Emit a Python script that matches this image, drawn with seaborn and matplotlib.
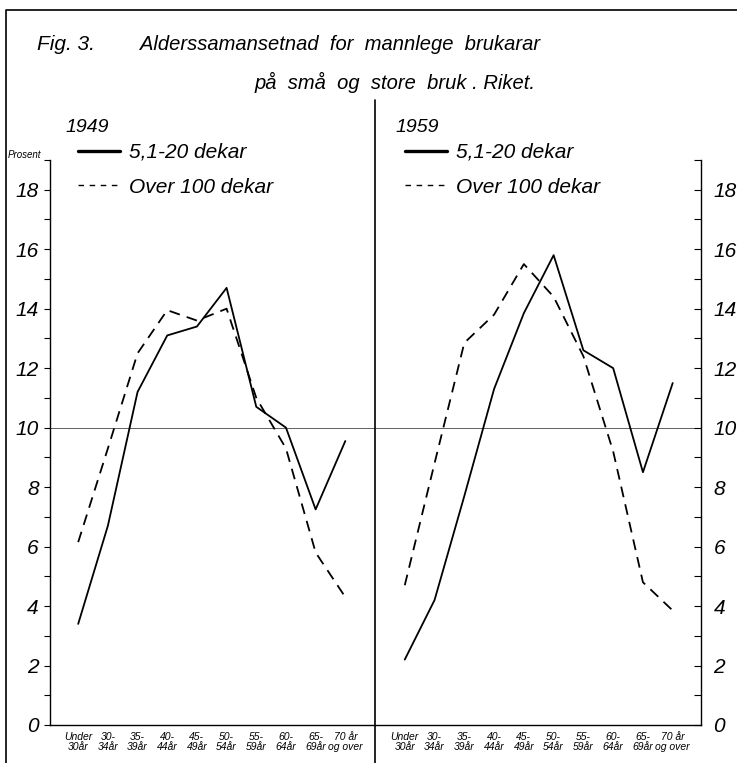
import matplotlib
matplotlib.use("Agg")
import matplotlib.pyplot as plt
from matplotlib.lines import Line2D
import seaborn as sns
import pandas as pd

# ---- data ----
age_labels = ["Under\n30år", "30-\n34år", "35-\n39år", "40-\n44år", "45-\n49år",
              "50-\n54år", "55-\n59år", "60-\n64år", "65-\n69år", "70 år\nog over"]
series_names = ["5,1-20 dekar", "Over 100 dekar"]
small_1949 = [3.4, 6.7, 11.2, 13.1, 13.4, 14.7, 10.7, 10.0, 7.25, 9.55]
large_1949 = [6.15, 9.3, 12.5, 13.95, 13.6, 14.0, 11.0, 9.3, 5.8, 4.3]
small_1959 = [2.2, 4.2, 7.7, 11.3, 13.85, 15.8, 12.6, 12.0, 8.5, 11.5]
large_1959 = [4.7, 8.8, 12.85, 13.8, 15.5, 14.4, 12.4, 9.2, 4.8, 3.85]
years = ["1949", "1959"]
y_major = [0, 2, 4, 6, 8, 10, 12, 14, 16, 18]
y_minor = [1, 3, 5, 7, 9, 11, 13, 15, 17, 19]

def long_df(small, large):
    rows = []
    for i, (a, b) in enumerate(zip(small, large)):
        rows.append({"idx": i, "value": a, "series": series_names[0]})
        rows.append({"idx": i, "value": b, "series": series_names[1]})
    return pd.DataFrame(rows)

df49 = long_df(small_1949, large_1949)
df59 = long_df(small_1959, large_1959)

sns.set_theme(style="white")
FONT = ["Liberation Sans", "DejaVu Sans"]
plt.rcParams["font.family"] = FONT
plt.rcParams["font.style"] = "italic"
plt.rcParams["text.color"] = "black"
plt.rcParams["xtick.color"] = "black"
plt.rcParams["ytick.color"] = "black"

W, H = 737, 763
fig = plt.figure(figsize=(W / 100, H / 100), dpi=100)
fig.patch.set_facecolor("white")

bottom = 1 - 725 / H
height = (725 - 160) / H
axL = fig.add_axes([50 / W, bottom, 325 / W, height])
axR = fig.add_axes([375 / W, bottom, 326 / W, height])

dashes = {series_names[0]: "", series_names[1]: (6, 4)}

for ax, df in ((axL, df49), (axR, df59)):
    sns.lineplot(data=df, x="idx", y="value", style="series", dashes=dashes,
                 color="black", lw=1.3, ax=ax, legend=False, sort=False,
                 errorbar=None)
    ax.axhline(10, color="#606060", lw=0.7, zorder=0)
    ax.set_ylim(0, 19)
    ax.set_xticks(range(len(age_labels)))
    ax.set_xticklabels(age_labels, fontsize=7.5, linespacing=1.0)
    ax.set_yticks(y_major)
    ax.set_yticks(y_minor, minor=True)
    ax.set_xlabel("")
    ax.set_ylabel("")
    ax.set_facecolor("white")
    for s in ax.spines.values():
        s.set_color("black")
        s.set_linewidth(1.0)
    ax.spines["top"].set_visible(False)
    ax.tick_params(axis="x", direction="in", length=4, width=0.8, pad=5,
                   color="black", labelcolor="black")
    ax.grid(False)

axL.set_xlim(-0.95, 10.0)
axR.set_xlim(-1.0, 9.95)

axL.spines["right"].set_visible(False)
axR.spines["left"].set_visible(False)
axL.tick_params(axis="y", which="both", left=True, right=False, direction="out",
                length=4, width=0.8, labelsize=15, pad=4, color="black",
                labelcolor="black")
axR.yaxis.tick_right()
axR.tick_params(axis="y", which="both", right=True, left=False, direction="in",
                length=5, width=0.8, labelsize=15, pad=9, color="black",
                labelcolor="black")

# legends
for ax, xa in ((axL, (78 - 50) / 325), (axR, (405 - 375) / 326)):
    handles = [Line2D([], [], color="black", lw=2.4),
               Line2D([], [], color="black", lw=1.0, ls=(0, (4, 4)))]
    ax.legend(handles, series_names, loc="upper left",
              bbox_to_anchor=(xa, (725 - 143) / 565), frameon=False,
              fontsize=15, handlelength=2.0, handletextpad=0.45,
              labelspacing=0.75, borderpad=0, borderaxespad=0)

# texts
fig.text(37 / W, 1 - 45 / H, "Fig. 3.", fontsize=15, va="center", ha="left")
fig.text(140 / W, 1 - 45 / H, "Alderssamansetnad  for  mannlege  brukarar",
         fontsize=14.5, va="center", ha="left")
fig.text(255 / W, 1 - 82 / H, "på  små  og  store  bruk . Riket.",
         fontsize=14.5, va="center", ha="left")
fig.text(65 / W, 1 - 127 / H, years[0], fontsize=14, va="center", ha="left")
fig.text(395 / W, 1 - 127 / H, years[1], fontsize=14, va="center", ha="left")
fig.text(8 / W, 1 - 155 / H, "Prosent", fontsize=7, va="center", ha="left")

# frame and divider
fig.add_artist(Line2D([6 / W, 6 / W, 1], [0, 1 - 10 / H, 1 - 10 / H],
                      transform=fig.transFigure, color="black", lw=1.2))
fig.add_artist(Line2D([375 / W, 375 / W], [0, 1 - 100 / H],
                      transform=fig.transFigure, color="black", lw=1.2))

fig.savefig("out.png", dpi=100, facecolor="white")
